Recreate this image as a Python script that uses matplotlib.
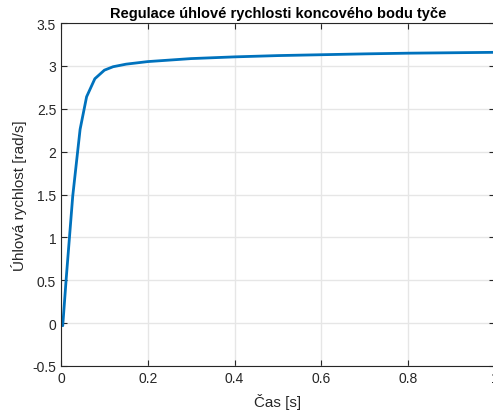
import matplotlib
matplotlib.use("Agg")
import matplotlib.pyplot as plt

# odhad z obrazku
cas = [0.0, 0.004, 0.012, 0.027, 0.044, 0.059, 0.078, 0.1, 0.12, 0.15,
       0.2, 0.3, 0.4, 0.5, 0.6, 0.7, 0.8, 0.9, 1.0]
omega = [0.0, -0.03, 0.52, 1.48, 2.26, 2.64, 2.85, 2.95, 2.99, 3.02,
         3.05, 3.085, 3.105, 3.12, 3.13, 3.14, 3.148, 3.153, 3.158]

xticks = [0, 0.2, 0.4, 0.6, 0.8, 1]
yticks = [-0.5, 0, 0.5, 1, 1.5, 2, 2.5, 3, 3.5]

plt.rcParams['font.family'] = ['Liberation Sans', 'DejaVu Sans']

fig = plt.figure(figsize=(4.93, 4.14), dpi=100)
ax = fig.add_axes([61 / 493, 47 / 414, 434 / 493, 343 / 414])

ax.plot(cas, omega, color='#0072BD', linewidth=2)

ax.set_xlim(0, 1)
ax.set_ylim(-0.5, 3.5)
ax.set_xticks(xticks)
ax.set_xticklabels(['0', '0.2', '0.4', '0.6', '0.8', '1'])
ax.set_yticks(yticks)
ax.set_yticklabels(['-0.5', '0', '0.5', '1', '1.5', '2', '2.5', '3', '3.5'])
ax.grid(True, color='#e6e6e6', linewidth=1)
ax.set_axisbelow(True)

dark = '#262626'
for s in ax.spines.values():
    s.set_color(dark)
    s.set_linewidth(0.8)
ax.tick_params(direction='in', length=4, width=0.8, colors=dark, labelsize=10,
               top=True, right=True, labelcolor=dark)

ax.set_title('Regulace úhlové rychlosti koncového bodu tyče',
             fontsize=10.5, fontweight='bold', pad=4)
ax.set_xlabel('Čas [s]', fontsize=11, color=dark, labelpad=6)
ax.set_ylabel('Úhlová rychlost [rad/s]', fontsize=11, color=dark, labelpad=4)

fig.savefig('out.png', dpi=100)
